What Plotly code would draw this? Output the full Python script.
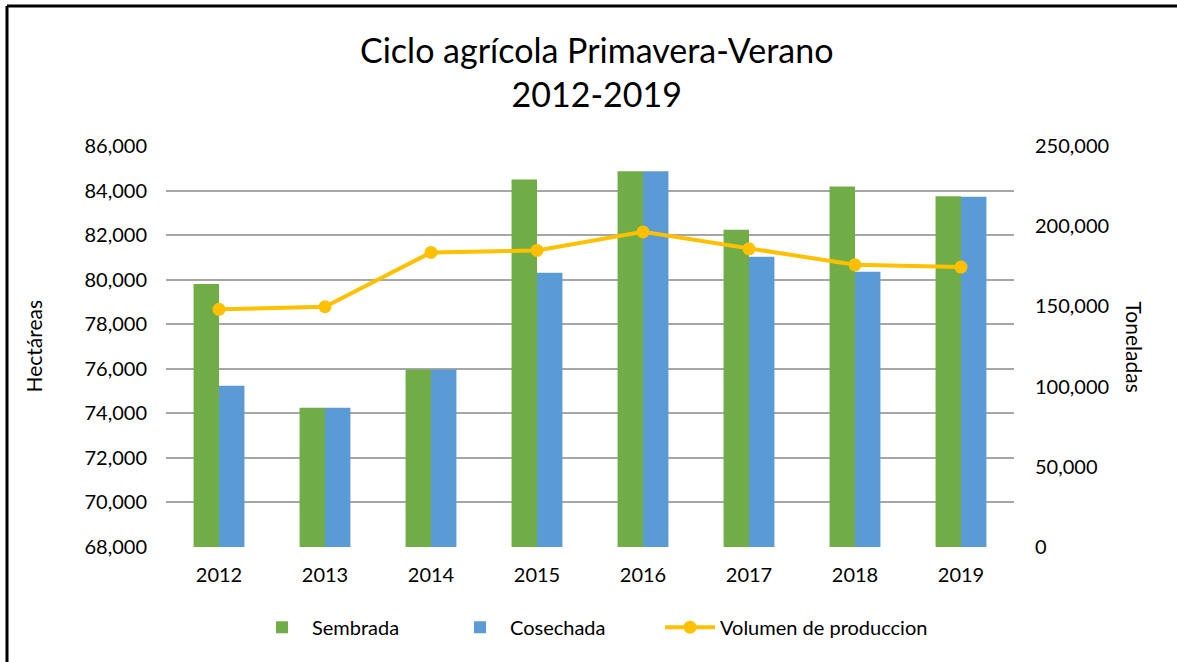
import plotly.graph_objects as go

# datos
anios = ["2012", "2013", "2014", "2015", "2016", "2017", "2018", "2019"]
sembrada = [79810, 74250, 75970, 84500, 84870, 82240, 84180, 83740]
cosechada = [75240, 74250, 75970, 80310, 84870, 81030, 80360, 83720]
volumen = [148160, 149780, 183640, 184880, 196460, 185880, 175920, 174490]

izq_ticks = list(range(68000, 86001, 2000))
der_ticks = list(range(0, 250001, 50000))

FONT = "Lato, 'Open Sans', sans-serif"
GRID = "#A6A6A6"

fig = go.Figure()

fig.add_trace(
    go.Bar(
        x=anios,
        y=sembrada,
        name="Sembrada",
        marker={"color": "#70AD47", "line": {"width": 0}},
        legend="legend",
    )
)
fig.add_trace(
    go.Bar(
        x=anios,
        y=cosechada,
        name="Cosechada",
        marker={"color": "#5B9BD5", "line": {"width": 0}},
        legend="legend2",
    )
)
fig.add_trace(
    go.Scatter(
        x=anios,
        y=volumen,
        name="Volumen de produccion",
        mode="lines+markers",
        line={"color": "#FFC000", "width": 4},
        marker={"color": "#FFC000", "size": 13},
        yaxis="y2",
        legend="legend3",
    )
)


def leyenda(px_izq):
    """una leyenda por serie, colocada en pixeles"""
    return {
        "orientation": "h",
        "x": (px_izq - 166) / 848,
        "xanchor": "left",
        "y": -0.2,
        "yanchor": "middle",
        "font": {"size": 20},
        "itemwidth": 50,
        "bgcolor": "rgba(0,0,0,0)",
    }


fig.update_layout(
    width=1177,
    height=662,
    margin={"l": 166, "r": 163, "t": 146, "b": 115},
    paper_bgcolor="white",
    plot_bgcolor="white",
    font={"family": FONT, "size": 20, "color": "black"},
    barmode="group",
    bargap=0.52,
    bargroupgap=0,
    showlegend=True,
    title={
        "text": "Ciclo agrícola Primavera-Verano<br>2012-2019",
        "x": 0.507,
        "xref": "container",
        "xanchor": "center",
        "y": 1 - 63 / 662,
        "yref": "container",
        "yanchor": "middle",
        "font": {"family": FONT, "size": 34, "color": "black"},
    },
    xaxis={
        "type": "category",
        "showgrid": False,
        "showline": False,
        "ticks": "",
        "ticklabelstandoff": 14,
        "tickfont": {"size": 20},
    },
    yaxis={
        "range": [68000, 86000],
        "tickvals": izq_ticks,
        "tickformat": ",d",
        "showgrid": True,
        "gridcolor": GRID,
        "gridwidth": 1.5,
        "zeroline": False,
        "showline": False,
        "ticks": "",
        "ticklabelstandoff": 18,
    },
    yaxis2={
        "range": [0, 250000],
        "tickvals": der_ticks,
        "tickformat": ",d",
        "overlaying": "y",
        "side": "right",
        "showgrid": False,
        "zeroline": False,
        "showline": False,
        "ticks": "",
        "ticklabelstandoff": 20,
    },
    legend=leyenda(252),
    legend2=leyenda(450),
    legend3=leyenda(660),
    annotations=[
        dict(
            text="Hectáreas",
            xref="paper",
            yref="paper",
            x=(33 - 166) / 848,
            xanchor="center",
            y=0.5,
            yanchor="middle",
            textangle=-90,
            showarrow=False,
            font={"size": 21},
        ),
        dict(
            text="Toneladas",
            xref="paper",
            yref="paper",
            x=(1134 - 166) / 848,
            xanchor="center",
            y=0.5,
            yanchor="middle",
            textangle=90,
            showarrow=False,
            font={"size": 21},
        ),
    ],
    shapes=[
        # marco negro (solo izquierda y arriba)
        dict(
            type="line",
            xref="paper",
            yref="paper",
            x0=(7 - 166) / 848,
            x1=(7 - 166) / 848,
            y0=(547 - 6) / 401,
            y1=(547 - 680) / 401,
            line={"color": "black", "width": 3},
        ),
        dict(
            type="line",
            xref="paper",
            yref="paper",
            x0=(7 - 166) / 848,
            x1=(1190 - 166) / 848,
            y0=(547 - 6) / 401,
            y1=(547 - 6) / 401,
            line={"color": "black", "width": 3},
        ),
    ],
)

fig.write_html(
    "out.html",
    config={"displayModeBar": False},
    post_script="document.body.style.margin='0';document.body.style.overflow='hidden';",
)
